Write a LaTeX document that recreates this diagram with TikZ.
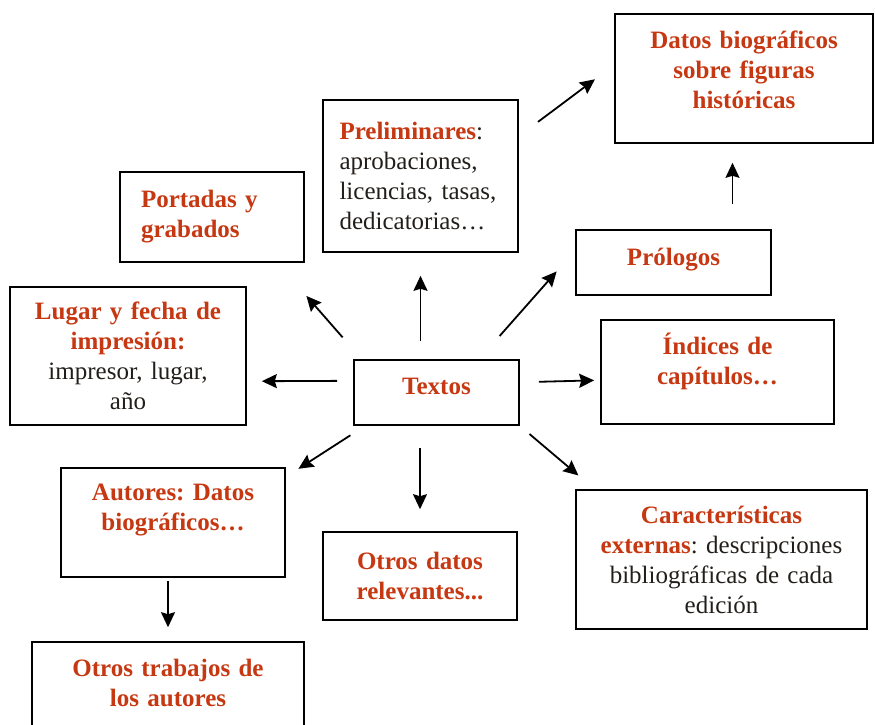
\documentclass[tikz,border=0pt]{standalone}
\usepackage{fontspec}
\setmainfont{Liberation Serif}
\usetikzlibrary{arrows.meta}
\definecolor{rust}{RGB}{198,56,18}
\definecolor{ink}{RGB}{34,30,26}
\newcommand{\plain}[1]{{\mdseries\color{ink}#1}}
\frenchspacing

\begin{document}
\begin{tikzpicture}[x=1pt, y=-1pt,
    box/.style={draw=black, line width=1.6pt, inner sep=0pt, align=center, text=rust,
      font=\fontsize{25}{30}\selectfont\bfseries},
    arr/.style={-{Stealth[length=15pt,width=14pt,inset=2pt]}, line width=1.8pt}]
  \useasboundingbox (0,0) rectangle (875,724);

  \node[box, minimum width=258pt, minimum height=129pt, text width=230pt, text depth=77pt] (datos) at (744,78.5) {Datos biográficos\\ sobre figuras\\ históricas};
  \node[box, align=left, minimum width=195pt, minimum height=152pt, text width=162pt] (prelim) at (420.5,176) {Preliminares\plain{:}\\ \plain{aprobaciones,}\\ \plain{licencias, tasas,}\\ \plain{dedicatorias…}};
  \node[box, align=left, minimum width=184pt, minimum height=90pt, text width=142pt] (portadas) at (212,217) {Portadas y\\ grabados};
  \node[box, minimum width=195pt, minimum height=65pt, text width=170pt, text depth=12pt] (prologos) at (673.5,262.5) {Prólogos};
  \node[box, minimum width=236pt, minimum height=138pt, text width=215pt] (lugar) at (128,356) {Lugar y fecha de\\ impresión:\\ \plain{impresor, lugar,}\\ \plain{año}};
  \node[box, minimum width=165pt, minimum height=65pt, text width=140pt, text depth=12pt] (textos) at (436.5,392.5) {Textos};
  \node[box, minimum width=233pt, minimum height=104pt, text width=210pt, text depth=56pt] (indices) at (717.5,372) {Índices de\\ capítulos…};
  \node[box, minimum width=224pt, minimum height=109pt, text width=200pt, text depth=61pt] (autores) at (173,522.5) {Autores: Datos\\ biográficos…};
  \node[box, minimum width=194pt, minimum height=88pt, text width=180pt] (otrosdatos) at (420,576) {Otros datos\\ relevantes...};
  \node[box, minimum width=291pt, minimum height=139pt, text width=270pt] (caract) at (721.5,559.5) {Características\\ externas\plain{: descripciones}\\ \plain{bibliográficas de cada}\\ \plain{edición}};
  \node[box, minimum width=272pt, minimum height=93pt, text width=250pt, text depth=41pt] (trabajos) at (168,688.5) {Otros trabajos de\\ los autores};

  % arrows from Textos
  \draw[arr, shorten <=18pt, shorten >=23pt] (textos.north -| prelim.south) -- (prelim.south);
  \draw[arr, shorten <=29pt, shorten >=44pt] (textos.156.4) -- (portadas.-35.1);
  \draw[arr, shorten <=16pt, shorten >=15pt] (textos.172.75) -- (lugar.-12.4);
  \draw[arr, shorten <=17.5pt, shorten >=15pt] (textos.205.7) -- (autores.22.5);
  \draw[arr, shorten <=22pt, shorten >=22pt] (textos.south -| otrosdatos.north) -- (otrosdatos.north);
  \draw[arr, shorten <=12.7pt, shorten >=21.3pt] (textos.south east) -- (caract.151.8);
  \draw[arr, shorten <=19pt, shorten >=6pt] (textos.7.25) -- (indices.184.9);
  \draw[arr, shorten <=31pt, shorten >=28pt] (textos.38.7) -- (prologos.173.9);

  \draw[arr, shorten <=24pt, shorten >=24pt] (prelim.22.8) -- (datos.174.5);
  \draw[arr, shorten <=25pt, shorten >=19pt] (prologos.north -| datos.260.3) -- (datos.260.3);
  \draw[arr, shorten <=3pt, shorten >=14pt] (autores.south -| trabajos.north) -- (trabajos.north);
\end{tikzpicture}
\end{document}
